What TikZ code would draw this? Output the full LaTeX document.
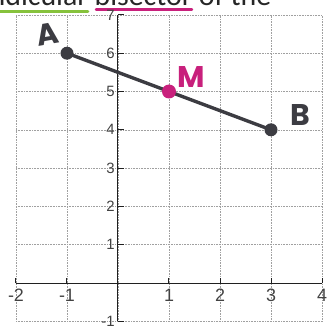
\documentclass[tikz,border=0pt]{standalone}
\usepackage{fontspec}
\setmainfont{Liberation Sans}
\newfontfamily\notefont{Carlito}
\newfontfamily\handfont{Poppins}
\usepackage{tikz}
\usetikzlibrary{positioning}
\definecolor{penGrey}{HTML}{3C3C42}
\definecolor{penMagenta}{HTML}{C8207C}
\definecolor{penGreen}{HTML}{86C23C}
\definecolor{gridGrey}{HTML}{A0A0A0}
\definecolor{axisBlack}{HTML}{202020}

\begin{document}
\begin{tikzpicture}[x=51bp, y=38.3bp,
  gridline/.style={gridGrey, densely dotted, line width=0.6bp},
  axisline/.style={axisBlack, line width=1bp},
  xlabel/.style={font=\fontsize{18}{18}\selectfont, text=axisBlack!85, inner sep=0pt},
  ylabel/.style={font=\fontsize{15}{15}\selectfont, text=axisBlack!85, inner sep=0pt, anchor=east},
  ptdot/.style={circle, fill=#1, inner sep=0pt, minimum size=13bp},
  handlabel/.style={font=\handfont\bfseries\fontsize{30}{30}\selectfont, text=#1, inner sep=0pt},
  notetext/.style={font=\notefont\fontsize{30}{30}\selectfont, text=black!85, inner sep=0pt, anchor=base west}]

\useasboundingbox (-2.3137,-1.201) rectangle (4.098,7.389);

% note text cut at the top of the scan
\node[notetext] (note) at (-2.52,7.25) {ndicular bisector of the};
\draw[penGreen, line width=3bp, line cap=round] (-2.31,7.10) -- (-0.59,7.10);
\draw[penMagenta, line width=2.6bp, line cap=round] (-0.43,7.14) -- (1.45,7.14);

% grid and axes
\draw[gridline, xstep=1, ystep=1] (-2,-1) grid (4,7);
\draw[axisline] (-2,0) -- (4,0);
\draw[axisline] (0,-1) -- (0,7);
\foreach \x in {-2,-1,1,2,3,4} {
  \draw[axisline] (\x,0) -- (\x,0.12);
  \node[xlabel] (xl\x) at (\x,-0.31) {\x};
}
\foreach \y in {-1,1,2,3,4,5,6,7} {
  \draw[axisline] (0,\y) -- (0.12,\y);
  \node[ylabel] (yl\y) at (-0.06,\y) {\y};
}

% segment AB and its midpoint
\node[ptdot=penGrey] (ptA) at (-1,6) {};
\node[ptdot=penGrey] (ptB) at (3,4) {};
\draw[penGrey, line width=3.4bp] (ptA.center) -- (ptB.center);
\node[ptdot=penMagenta, minimum size=14bp] (ptM) at (1,5) {};

\node[handlabel=penGrey, rotate=10] (labA) at (-1.39,6.50) {A};
\node[handlabel=penMagenta] (labM) at (1.43,5.38) {M};
\node[handlabel=penGrey] (labB) at (3.57,4.39) {B};
\end{tikzpicture}
\end{document}
